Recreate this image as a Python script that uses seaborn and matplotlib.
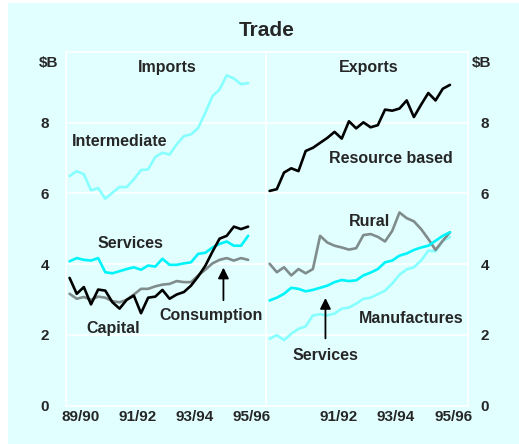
import numpy as np
import pandas as pd
import matplotlib
matplotlib.use("Agg")
import matplotlib.pyplot as plt
from matplotlib.patches import Rectangle
import seaborn as sns

sns.set_style("white")
plt.rcParams['font.family'] = ['Liberation Sans', 'DejaVu Sans']
plt.rcParams['font.weight'] = 'bold'

# quarterly data, Sep qtr 1989 .. Dec qtr 1995 ($B)
imp_intermediate = [6.49, 6.63, 6.54, 6.09, 6.15, 5.85, 6.02, 6.18, 6.18, 6.40, 6.66, 6.68, 7.03,
                    7.15, 7.10, 7.39, 7.62, 7.67, 7.85, 8.28, 8.75, 8.94, 9.34, 9.25, 9.09, 9.12]
imp_services = [4.08, 4.17, 4.12, 4.10, 4.17, 3.77, 3.74, 3.80, 3.86, 3.91, 3.84, 3.96, 3.93,
                4.15, 3.98, 3.98, 4.02, 4.05, 4.29, 4.32, 4.47, 4.57, 4.64, 4.52, 4.52, 4.80]
imp_capital = [3.61, 3.16, 3.35, 2.86, 3.28, 3.25, 2.92, 2.74, 2.99, 3.11, 2.61, 3.05, 3.08,
               3.27, 3.02, 3.14, 3.21, 3.39, 3.65, 3.95, 4.35, 4.72, 4.80, 5.06, 4.99, 5.06]
imp_consumption = [3.16, 3.02, 3.07, 2.99, 3.08, 3.05, 2.95, 2.92, 2.99, 3.14, 3.30, 3.30, 3.37,
                   3.42, 3.44, 3.52, 3.49, 3.49, 3.68, 3.84, 4.02, 4.12, 4.17, 4.10, 4.17, 4.12]

exp_resource = [6.07, 6.12, 6.59, 6.71, 6.63, 7.20, 7.29, 7.43, 7.57, 7.74, 7.55, 8.04, 7.84,
                8.01, 7.87, 7.93, 8.37, 8.34, 8.40, 8.63, 8.16, 8.51, 8.84, 8.63, 8.96, 9.07]
exp_rural = [4.01, 3.77, 3.91, 3.68, 3.86, 3.74, 3.86, 4.80, 4.61, 4.52, 4.47, 4.41, 4.45,
             4.82, 4.85, 4.77, 4.64, 4.94, 5.46, 5.30, 5.21, 4.99, 4.71, 4.40, 4.66, 4.90]
exp_services = [2.97, 3.05, 3.16, 3.33, 3.30, 3.23, 3.27, 3.33, 3.39, 3.49, 3.55, 3.52, 3.54,
                3.68, 3.76, 3.86, 4.05, 4.10, 4.24, 4.30, 4.40, 4.47, 4.52, 4.66, 4.80, 4.90]
exp_manufactures = [1.89, 1.99, 1.85, 2.03, 2.17, 2.24, 2.55, 2.58, 2.55, 2.60, 2.74, 2.77, 2.88,
                    3.02, 3.05, 3.15, 3.25, 3.45, 3.70, 3.85, 3.91, 4.10, 4.38, 4.36, 4.66, 4.76]

year_labels = ["89/90", "91/92", "93/94", "95/96"]

BG = "#E1FFFF"
CYAN = "#00F4FA"
LCYAN = "#88FFFF"
GREY = "#808C8C"
BLACK = "#000000"
LW = 1.9

n = len(imp_intermediate)
xq = 0.125 + 0.25 * np.arange(n)  # quarter mid-points in years from Jul 1989

fig = plt.figure(figsize=(5.19, 4.44), dpi=100)
fig.patch.set_facecolor("white")
fig.patches.append(Rectangle((8/519, 0), 1, 1 - 3/444, transform=fig.transFigure,
                             facecolor=BG, edgecolor="none", zorder=-10))

L, R, MID = 66/519, 468/519, 266/519
B, T = 1 - 405.5/444, 1 - 52/444
axL = fig.add_axes([L, B, MID - L, T - B])
axR = fig.add_axes([MID, B, R - MID, T - B])

TICK_FS = 11

def style(ax, labels_at, labels):
    ax.set_facecolor(BG)
    ax.set_xlim(0, 7)
    ax.set_ylim(0, 10)
    for s in ax.spines.values():
        s.set_color("white")
        s.set_linewidth(1.2)
    ax.set_yticks([0, 2, 4, 6, 8])
    for yv in [2, 4, 6, 8]:
        ax.axhline(yv, color="white", lw=1.2, zorder=0)
    ax.set_xticks(range(0, 8))
    ax.set_xticklabels([])
    ax.tick_params(axis='x', which='major', direction='in', length=5, color='white', width=1.2)
    ax.set_xticks(labels_at, minor=True)
    ax.set_xticklabels(labels, minor=True, fontsize=TICK_FS, fontweight='bold')
    ax.tick_params(axis='x', which='minor', length=0, pad=3)
    ax.set_xlabel("")
    ax.set_ylabel("")

style(axL, [0.5, 2.5, 4.5, 6.5], year_labels)
style(axR, [2.5, 4.5, 6.5], year_labels[1:])

axL.tick_params(axis='y', length=0, pad=12, labelsize=TICK_FS)
axR.tick_params(axis='y', length=0, pad=9, labelsize=TICK_FS, left=False, labelleft=False,
                right=True, labelright=True)
for lab in axL.get_yticklabels() + axR.get_yticklabels():
    lab.set_fontweight('bold')

def line(ax, vals, color):
    sns.lineplot(x=xq, y=vals, ax=ax, color=color, lw=LW, legend=False)

line(axL, imp_intermediate, LCYAN)
line(axL, imp_consumption, GREY)
line(axL, imp_services, CYAN)
line(axL, imp_capital, BLACK)

line(axR, exp_manufactures, LCYAN)
line(axR, exp_rural, GREY)
line(axR, exp_services, CYAN)
line(axR, exp_resource, BLACK)

for ax in (axL, axR):
    ax.set_xlim(0, 7)
    ax.set_ylim(0, 10)
    ax.set_xlabel("")
    ax.set_ylabel("")

tk = dict(fontsize=11.5, fontweight='bold', ha='center', va='center')
axL.text(3.55, 9.56, "Imports", **tk)
axR.text(3.55, 9.56, "Exports", **tk)
axL.text(1.87, 7.48, "Intermediate", **tk)
axL.text(2.24, 4.59, "Services", **tk)
axL.text(1.65, 2.18, "Capital", **tk)
axL.text(5.07, 2.55, "Consumption", **tk)
axL.annotate("", xy=(5.51, 3.98), xytext=(5.51, 2.9),
             arrowprops=dict(arrowstyle="-|>", color="black", lw=1.3, mutation_scale=16))
axR.text(4.32, 6.99, "Resource based", **tk)
axR.text(3.58, 5.21, "Rural", **tk)
axR.text(5.03, 2.46, "Manufactures", **tk)
axR.text(2.06, 1.42, "Services", **tk)
axR.annotate("", xy=(2.06, 3.12), xytext=(2.06, 1.82),
             arrowprops=dict(arrowstyle="-|>", color="black", lw=1.3, mutation_scale=16))

fig.text(267/519, 1 - 30/444, "Trade", fontsize=15, fontweight='bold', ha='center', va='center')
fig.text(49/519, 1 - 63/444, "$B", fontsize=TICK_FS, fontweight='bold', ha='center', va='center')
fig.text(482/519, 1 - 63/444, "$B", fontsize=TICK_FS, fontweight='bold', ha='center', va='center')

fig.savefig("out.png", dpi=100, facecolor=fig.get_facecolor())
